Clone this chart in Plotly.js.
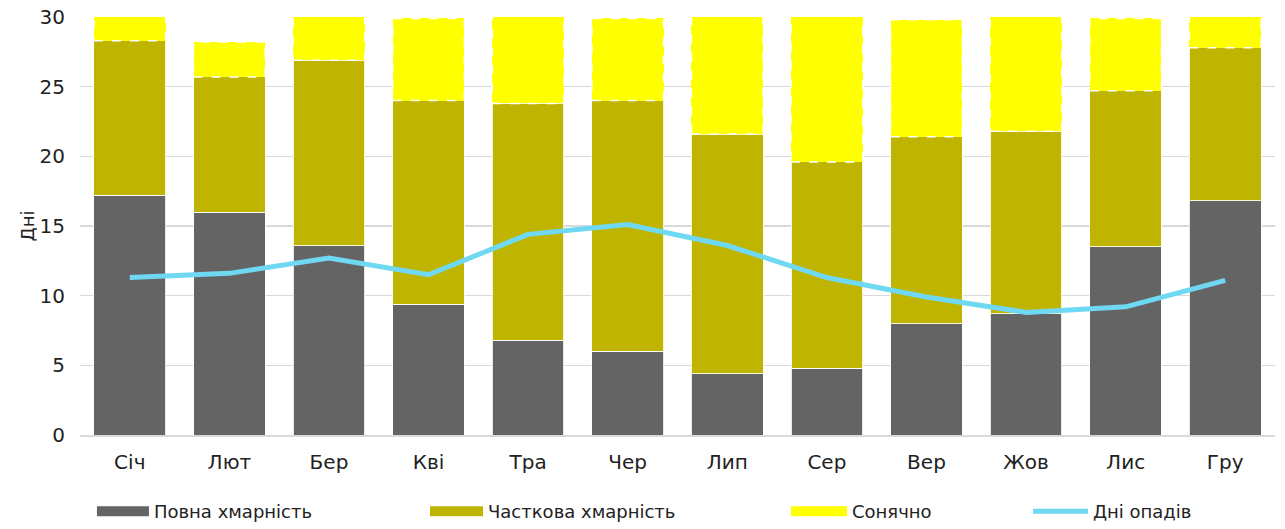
<!DOCTYPE html>
<html>
<head>
<meta charset="utf-8">
<script src="https://cdn.plot.ly/plotly-3.0.1.min.js"></script>
<style>html,body{margin:0;padding:0;background:#fff;}#chart{width:1285px;height:529px;}</style>
</head>
<body>
<div id="chart"></div>
<script>
const months = ['Січ','Лют','Бер','Кві','Тра','Чер','Лип','Сер','Вер','Жов','Лис','Гру'];
const overcast = [17.2,16.0,13.6,9.4,6.8,6.0,4.4,4.8,8.0,8.7,13.5,16.8];
const partly = [11.1,9.7,13.3,14.6,17.0,18.0,17.2,14.8,13.4,13.1,11.2,11.0];
const sunny = [2.7,2.5,4.1,5.9,7.2,5.9,9.4,11.4,8.4,9.2,5.2,3.2];
const precip = [11.3,11.6,12.7,11.5,14.4,15.1,13.6,11.3,9.9,8.8,9.2,11.1];
const seriesNames = ['Повна хмарність','Часткова хмарність','Сонячно','Дні опадів'];
const yTitle = 'Дні';

const cGrey = '#646464', cOlive = '#BFB500', cYellow = '#FFFF00', cBlue = '#6FD8F3';
const FONT = 'DejaVu Sans';
const barFrac = 0.72;

const nulls = months.map(() => null);
const traces = [
  {type:'bar', x:months, y:overcast, name:seriesNames[0], marker:{color:cGrey, line:{color:'rgba(255,255,255,0.85)', width:1}}, showlegend:false},
  {type:'bar', x:months, y:partly, name:seriesNames[1], marker:{color:cOlive, line:{color:'rgba(255,255,255,0.85)', width:1}}, showlegend:false},
  {type:'bar', x:months, y:sunny, name:seriesNames[2], marker:{color:cYellow, line:{width:0}}, showlegend:false},
  // legend entries
  {type:'scatter', mode:'lines', x:months, y:nulls, name:seriesNames[0], line:{color:cGrey, width:10}, hoverinfo:'skip', legend:'legend'},
  {type:'scatter', mode:'lines', x:months, y:nulls, name:seriesNames[1], line:{color:cOlive, width:10}, hoverinfo:'skip', legend:'legend2'},
  {type:'scatter', mode:'lines', x:months, y:nulls, name:seriesNames[2], line:{color:cYellow, width:10}, hoverinfo:'skip', legend:'legend3'},
  {type:'scatter', mode:'lines', x:months, y:precip, name:seriesNames[3], line:{color:cBlue, width:5, shape:'linear'}, legend:'legend4'}
];

// dashed white outline around the sunny segments
const shapes = months.map((m, i) => ({
  type:'rect', xref:'x', yref:'y', layer:'above',
  x0: i - barFrac/2, x1: i + barFrac/2,
  y0: overcast[i] + partly[i], y1: overcast[i] + partly[i] + sunny[i],
  line:{color:'#ffffff', width:1.5, dash:'dash'}, fillcolor:'rgba(0,0,0,0)'
}));

function leg(x, iw) {
  return {orientation:'h', x:x, xanchor:'left', y:-0.139, yanchor:'top',
          itemwidth:iw, font:{size:18, color:'#222222'}, bgcolor:'rgba(0,0,0,0)'};
}

const layout = {
  width:1285, height:529,
  margin:{l:80, r:10, t:17, b:94, autoexpand:false},
  barmode:'stack', bargap:1 - barFrac,
  paper_bgcolor:'#ffffff', plot_bgcolor:'#ffffff',
  font:{family:FONT, color:'#222222', size:18},
  xaxis:{type:'category', showgrid:false, showline:true, linecolor:'#d9d9d9', linewidth:2,
         ticks:'', tickfont:{size:20, color:'#222'}, ticklabelstandoff:8, fixedrange:true},
  yaxis:{range:[0,30], dtick:5, showgrid:true, gridcolor:'#d9d9d9', gridwidth:1.5, zeroline:false,
         showline:false, ticks:'', tickfont:{size:20, color:'#222'}, ticklabelstandoff:14,
         title:{text:yTitle, font:{size:18, color:'#222'}, standoff:0}},
  legend: leg(0.010, 52),
  legend2: leg(0.2887, 53),
  legend3: leg(0.5908, 56),
  legend4: leg(0.7933, 55),
  shapes: shapes,
  showlegend:true
};

Plotly.newPlot('chart', traces, layout, {displayModeBar:false, staticPlot:true});
</script>
</body>
</html>
